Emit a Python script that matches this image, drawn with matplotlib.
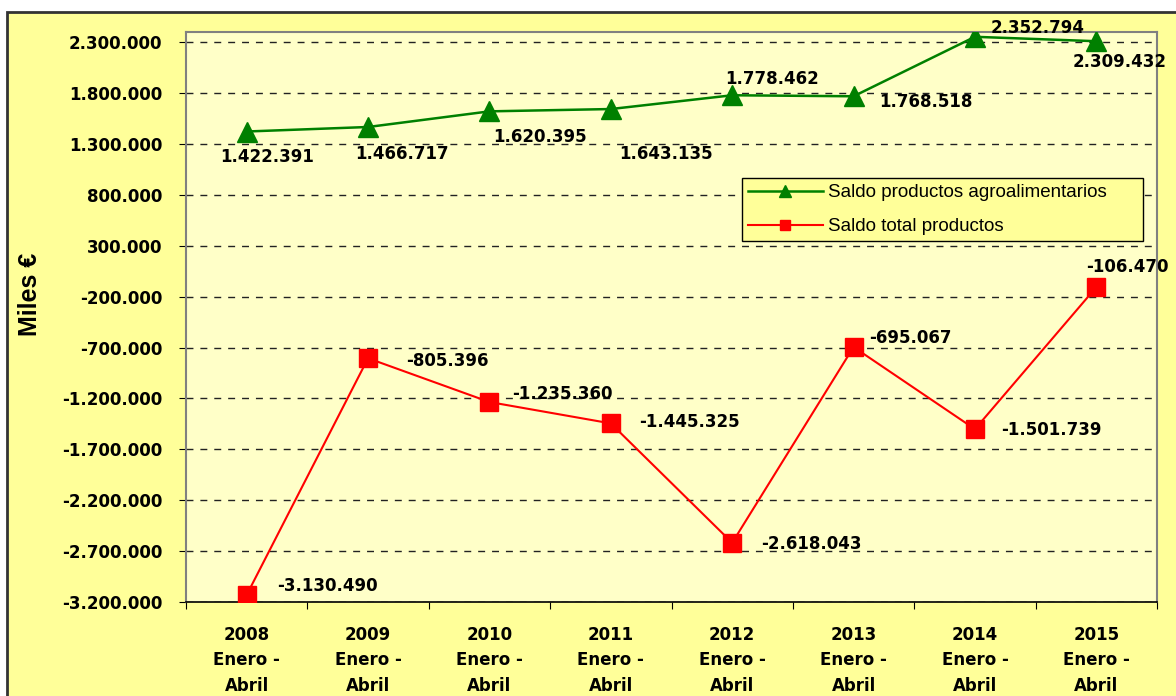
import matplotlib
matplotlib.use('Agg')
import matplotlib.pyplot as plt
from matplotlib.patches import Rectangle
import numpy as np

years = ['2008', '2009', '2010', '2011', '2012', '2013', '2014', '2015']
agro = [1422391, 1466717, 1620395, 1643135, 1778462, 1768518, 2352794, 2309432]
total = [-3130490, -805396, -1235360, -1445325, -2618043, -695067, -1501739, -106470]
yticks = np.arange(-3200000, 2300001, 500000)

# label offsets in pixels (dx, dy) relative to each marker
agro_off = [(20, -25), (34, -27), (51, -26), (55, -45), (40, 16), (72, -6), (63, 9), (23, -21)]
total_off = [(81, 9), (79, -3), (73, 8), (79, 1), (79, -1), (57, 9), (76, -1), (31, 20)]

def fmt(v):
    return f"{v:,.0f}".replace(',', '.')

fig = plt.figure(figsize=(11.76, 6.96), dpi=100, facecolor='white')
# outer chart area with dark border (runs off the right/bottom edge)
fig.patches.append(Rectangle((7/1176, -0.1), 1.2, 1.1 - 12/696, transform=fig.transFigure,
                             facecolor='#FFFF99', edgecolor='#333333', lw=2, zorder=-5))

ax = fig.add_axes([186/1176, 1 - 602/696, 971/1176, 570/696])
ax.set_zorder(1)
ax.set_facecolor('#FFFFC8')
x = np.arange(len(years))

ax.plot(x, agro, '-^', color='#008000', lw=1.8, ms=15, mec='#008000',
        label='Saldo productos agroalimentarios', zorder=3)
ax.plot(x, total, '-s', color='#FF0000', lw=1.5, ms=13, mec='#FF0000',
        label='Saldo total productos', zorder=3)

for i in range(len(years)):
    ax.annotate(fmt(agro[i]), (x[i], agro[i]), xytext=agro_off[i], textcoords='offset pixels',
                ha='center', va='center', fontsize=12, fontweight='bold', annotation_clip=False)
    ax.annotate(fmt(total[i]), (x[i], total[i]), xytext=total_off[i], textcoords='offset pixels',
                ha='center', va='center', fontsize=12, fontweight='bold', annotation_clip=False)

ax.set_xlim(-0.5, len(years) - 0.5)
ax.set_ylim(-3200000, 2400000)
ax.set_yticks(yticks)
ax.set_yticklabels([fmt(v) for v in yticks], fontsize=12, fontweight='bold')
ax.tick_params(axis='y', direction='out', length=5, pad=12)
ax.yaxis.grid(True, color='#222222', ls=(0, (5, 5)), lw=1)
ax.set_axisbelow(True)

ax.set_xticks(np.arange(-0.5, len(years)), minor=False)
ax.set_xticklabels([])
ax.set_xticks(x, minor=True)
ax.set_xticklabels([f"{y}\nEnero -\nAbril" for y in years], minor=True,
                   fontsize=12, fontweight='bold', linespacing=1.55)
ax.tick_params(axis='x', which='major', direction='out', length=5)
ax.tick_params(axis='x', which='minor', length=0, pad=17)

for s in ['left', 'top', 'right']:
    ax.spines[s].set_color('#808080')
    ax.spines[s].set_linewidth(1.5)
ax.spines['bottom'].set_color('black')
ax.spines['bottom'].set_linewidth(1.2)

leg = ax.legend(loc='center', bbox_to_anchor=(0.5726, 0.628, 0.413, 0.121), mode='expand',
                prop={'family': 'Liberation Sans', 'size': 13.5}, frameon=True, fancybox=False,
                framealpha=1, facecolor='#FFFF99', edgecolor='black', markerscale=0.55,
                handlelength=4.0, handletextpad=0.3, borderaxespad=0,
                borderpad=0.3, labelspacing=0.9)
leg.get_frame().set_linewidth(1)

fig.text(30/1176, 1 - 294/696, 'Miles €', rotation=90, ha='center', va='center',
         fontsize=18, fontweight='bold', family='Liberation Sans')

plt.savefig('out.png', dpi=100, facecolor=fig.get_facecolor())
